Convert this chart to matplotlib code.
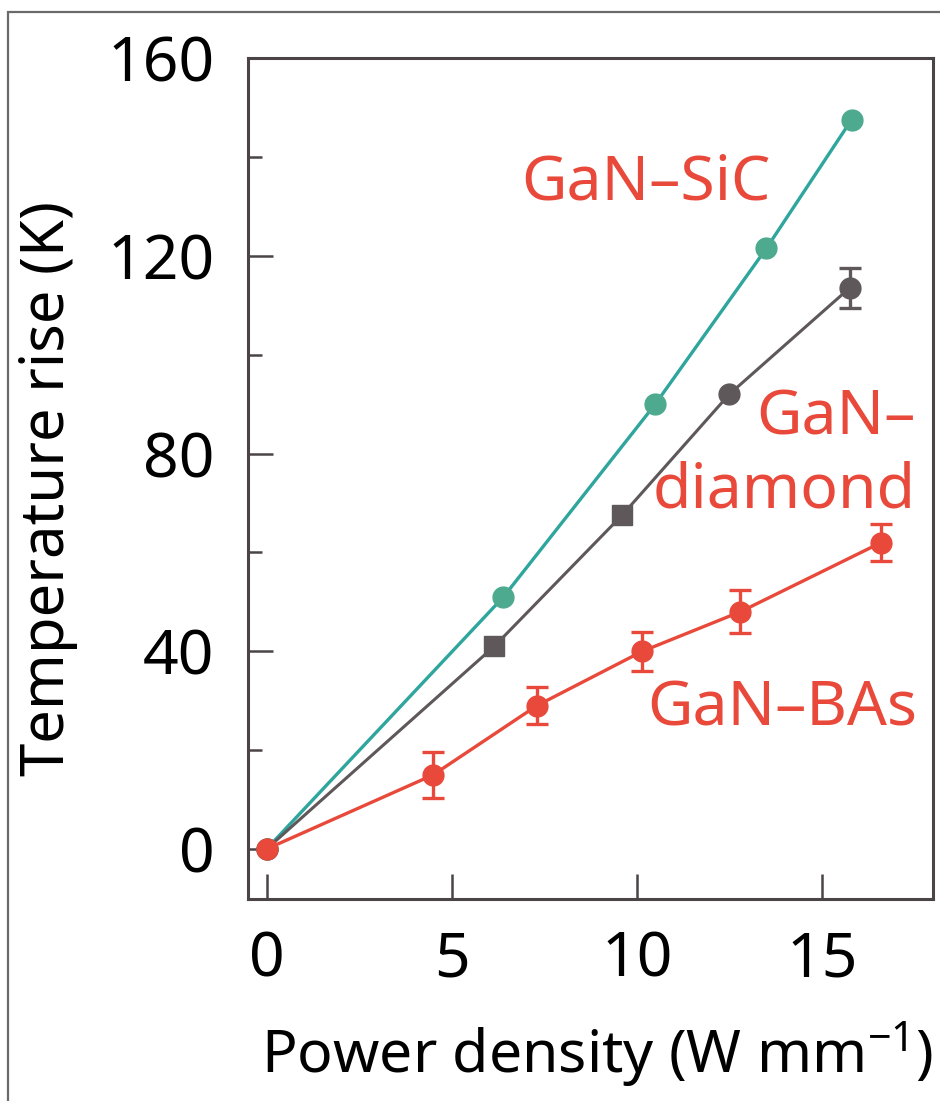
import matplotlib
matplotlib.use("Agg")
import matplotlib.pyplot as plt
from matplotlib.patches import Rectangle
import numpy as np

plt.rcParams['font.family'] = ['Noto Sans', 'DejaVu Sans']
plt.rcParams['mathtext.fontset'] = 'custom'
plt.rcParams['mathtext.rm'] = 'Noto Sans'
plt.rcParams['mathtext.it'] = 'Noto Sans:italic'
plt.rcParams['mathtext.default'] = 'regular'

# Power density (W/mm) vs temperature rise (K)
sic_x = [0, 6.4, 10.5, 13.5, 15.8]
sic_y = [0, 51, 90, 121.5, 147.5]

dia_x = [0, 6.15, 9.6, 12.5, 15.75]
dia_y = [0, 41, 67.5, 92, 113.5]
dia_err = [0, 0, 0, 0, 4.1]
dia_marker = ['o', 's', 's', 'o', 'o']

bas_x = [0, 4.5, 7.3, 10.15, 12.8, 16.6]
bas_y = [0, 15, 29, 40, 48, 62]
bas_err = [0, 4.6, 3.8, 4.0, 4.4, 3.8]

x_ticks = [0, 5, 10, 15]
y_ticks = [0, 40, 80, 120, 160]
y_minor = [20, 60, 100, 140]

teal_line = '#2ea59d'
teal_mark = '#4daa8f'
gray = '#5f585b'
red = '#e8493a'
spine_col = '#4a4446'

fig = plt.figure(figsize=(9.4, 11.01), dpi=100)
ax = fig.add_axes([248 / 940, 1 - 899 / 1101, (933 - 248) / 940, (899 - 58) / 1101])

# outer frame
fig.patches.append(Rectangle((8 / 940, -0.1), 1.2, 1.1 - 12 / 1101,
                             transform=fig.transFigure, fill=False,
                             edgecolor='#6a6a6a', linewidth=1.6, zorder=0))

# GaN-SiC
ax.plot(sic_x, sic_y, color=teal_line, lw=2.4, zorder=2)
ax.plot(sic_x, sic_y, ls='none', marker='o', ms=15, color=teal_mark, mec=teal_mark, zorder=3)

# GaN-diamond
ax.plot(dia_x, dia_y, color=gray, lw=2.2, zorder=2)
for x, y, m in zip(dia_x, dia_y, dia_marker):
    ax.plot([x], [y], ls='none', marker=m, ms=15 if m == 'o' else 14, color=gray, zorder=3)
dx = np.array(dia_x); dy = np.array(dia_y); de = np.array(dia_err)
sel = de > 0
ax.errorbar(dx[sel], dy[sel], yerr=de[sel], fmt='none', ecolor=gray,
            elinewidth=2.4, capsize=8, capthick=2.4, zorder=3)

# GaN-BAs
bx = np.array(bas_x); by = np.array(bas_y); be = np.array(bas_err)
ax.plot(bx, by, color=red, lw=2.4, zorder=4)
ax.plot(bx, by, ls='none', marker='o', ms=15, color=red, zorder=5)
sel = be > 0
ax.errorbar(bx[sel], by[sel], yerr=be[sel], fmt='none', ecolor=red,
            elinewidth=2.4, capsize=8, capthick=2.4, zorder=5)

ax.set_xlim(-0.5, 18)
ax.set_ylim(-10.1, 160)
ax.set_xticks(x_ticks)
ax.set_yticks(y_ticks)
ax.set_yticks(y_minor, minor=True)
ax.tick_params(axis='both', which='major', direction='in', length=18, width=1.8,
               color=spine_col, labelsize=45, pad=22)
ax.tick_params(axis='y', which='minor', direction='in', length=10, width=1.8, color=spine_col)
ax.tick_params(axis='y', which='major', pad=24)
for s in ax.spines.values():
    s.set_color(spine_col)
    s.set_linewidth(2.2)

ax.set_xlabel(r'Power density (W mm$^{-1}$)', fontsize=42.5)
ax.xaxis.set_label_coords((597 - 248) / (933 - 248), -(1020 - 899) / (899 - 58))
ax.set_ylabel('Temperature rise (K)', fontsize=43)
ax.yaxis.set_label_coords(-(248 - 78) / (933 - 248), (899 - 488) / (899 - 58))

lab_kw = dict(color=red, fontsize=45, transform=fig.transFigure)
fig.text(646 / 940, 1 - 183 / 1101, 'GaN\u2013SiC', ha='center', va='center', **lab_kw)
fig.text(916 / 940, 1 - 455 / 1101, 'GaN\u2013\ndiamond', ha='right', va='center',
         linespacing=1.25, **lab_kw)
fig.text(782 / 940, 1 - 710 / 1101, 'GaN\u2013BAs', ha='center', va='center', **lab_kw)

fig.savefig('out.png', dpi=100)
